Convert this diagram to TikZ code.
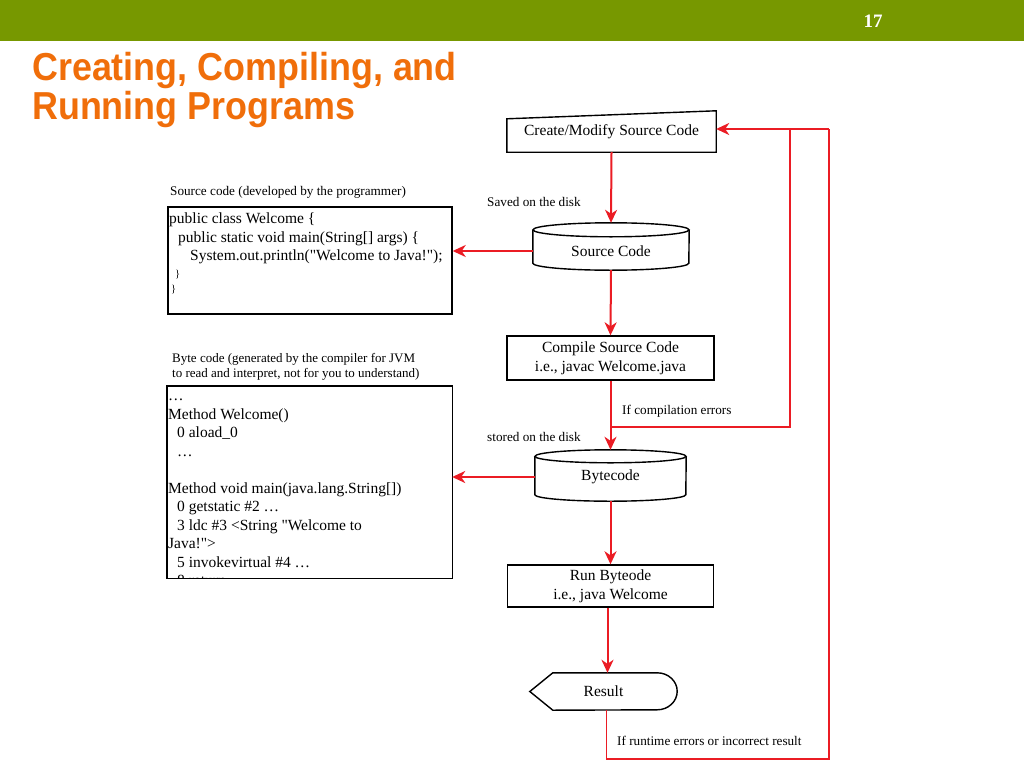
\documentclass[tikz,border=0pt]{standalone}
\usepackage{fontspec}
\setmainfont{Liberation Serif}[Ligatures=TeXOff]
\newfontfamily\titlefont{Liberation Sans}
\usepackage{graphicx}
\usetikzlibrary{arrows.meta,calc}
\definecolor{bargreen}{RGB}{119,152,0}
\definecolor{titleorange}{RGB}{240,110,10}
\definecolor{flowred}{RGB}{235,28,36}
\newcommand\mycyl[3]{%
  \draw[boxline] ([yshift=-#3]#1.north west) -- ([yshift=#3]#1.south west)
     arc[start angle=180,end angle=360,x radius=#2,y radius=#3]
     -- ([yshift=-#3]#1.north east);
  \draw[boxline] ([yshift=-#3]#1.north) ellipse[x radius=#2,y radius=#3];
}
\tikzset{
  boxline/.style={draw=black,line width=1.4pt},
  flowtext/.style={inner sep=0pt,align=center,font=\fontsize{15.5}{19}\selectfont},
  area/.style={inner sep=0pt,rectangle},
  mainarrow/.style={draw=flowred,line width=2pt,-{Stealth[length=13pt,width=12pt,inset=4pt]}},
  fbline/.style={draw=flowred,line width=1.3pt},
  lbl/.style={inner sep=0pt,anchor=west,font=\fontsize{13.2}{15}\selectfont},
  code/.style={inner sep=0pt,anchor=north west,align=left,font=\fontsize{15.5}{18.5}\selectfont},
}
\begin{document}
\begin{tikzpicture}[x=1pt,y=-1pt]
\useasboundingbox (0,0) rectangle (1024,768);
\fill[white] (0,0) rectangle (1024,768);
\fill[bargreen] (0,0) rectangle (1024,41);
\node[inner sep=0pt,text=white,font=\fontsize{19}{22}\selectfont\bfseries] (pagenum) at (873,21) {17};

% title
\node[anchor=base west,inner sep=0pt,text=titleorange,font=\titlefont\bfseries\fontsize{39}{39}\selectfont] (title1) at (32,80) {\scalebox{0.92}[1]{Creating, Compiling, and}};
\node[anchor=base west,inner sep=0pt,text=titleorange,font=\titlefont\bfseries\fontsize{39}{39}\selectfont] (title2) at (32,119) {\scalebox{0.92}[1]{Running Programs}};

% flow nodes
\node[area,flowtext,minimum width=209pt,minimum height=41pt] (create) at (611.5,131.5) {Create/Modify Source Code};
\draw[boxline] (create.south west) -- (create.south east) -- (create.north east) -- ([yshift=-8pt]create.north west) -- cycle;

\node[area,minimum width=156pt,minimum height=47pt,label={[flowtext,yshift=-5pt]center:Source Code}] (src) at (611,246.5) {};
\mycyl{src}{78pt}{7pt}

\node[area,flowtext,boxline,minimum width=207pt,minimum height=44pt] (compile) at (610.5,358) {Compile Source Code\\i.e., javac Welcome.java};

\node[area,minimum width=151pt,minimum height=51pt,label={[flowtext,yshift=-1.5pt]center:Bytecode}] (byte) at (610.5,475.5) {};
\mycyl{byte}{75.5pt}{6.5pt}

\node[area,flowtext,boxline,minimum width=206pt,minimum height=42pt] (run) at (610.5,586) {Run Byteode\\i.e., java Welcome};

\node[area,minimum width=147pt,minimum height=37pt,label={[flowtext]center:Result}] (res) at (603.5,691.5) {};
\draw[boxline] (res.west) -- ([xshift=23pt]res.north west) -- ([xshift=-20pt]res.north east)
   arc[start angle=90,end angle=-90,x radius=20pt,y radius=18.5pt]
   -- ([xshift=23pt]res.south west) -- cycle;

% source code box
\node[area,boxline,minimum width=284pt,minimum height=107pt] (srcbox) at (310,260.5) {};
\node[code] (srctext) at (169,210.5) {\strut public class Welcome \{\\
\hspace*{9pt}public static void main(String[] args) \{\\
\hspace*{21pt}System.out.println("Welcome to Java!");\\[-1.5pt]
{\fontsize{10.5}{12}\selectfont\hspace*{6pt}\}}\\[-3.5pt]
{\fontsize{10.5}{12}\selectfont\hspace*{2pt}\}}};

% byte code box
\node[area,minimum width=285pt,minimum height=192pt] (bytebox) at (309.5,482) {};
\begin{scope}
\clip (bytebox.south west) rectangle (bytebox.north east);
\node[code] (bytetext) at (168,387.5) {\strut …\\
Method Welcome()\\
\hspace*{9pt}0 aload\_0\\
\hspace*{9pt}…\\
\mbox{}\\
Method void main(java.lang.String[])\\
\hspace*{9pt}0 getstatic \#2 …\\
\hspace*{9pt}3 ldc \#3 <String "Welcome to\\
Java!">\\
\hspace*{9pt}5 invokevirtual \#4 …\\
\hspace*{9pt}8 return};
\end{scope}
\draw[boxline] (bytebox.south west) rectangle (bytebox.north east);

% labels
\node[lbl] (lblsaved) at (487,202) {Saved on the disk};
\node[lbl] (lblcomp) at (622,411) {If compilation errors};
\node[lbl] (lblstored) at (487,437) {stored on the disk};
\node[lbl] (lblrun) at (617,741) {If runtime errors or incorrect result};
\node[lbl] (lblsrc) at (170,192) {Source code (developed by the programmer)};
\node[lbl,align=left,font=\fontsize{13}{15}\selectfont] (lblbyte) at (172,366.5) {Byte code (generated by the compiler for JVM\\to read and interpret, not for you to understand)};

% connectors
\draw[mainarrow] (create.south) -- (src.north);
\draw[mainarrow] ([yshift=-4.5pt]src.west) -- ([yshift=-4.5pt]src.west -| srcbox.east);
\draw[mainarrow] (src.south) -- (compile.north);
\draw[mainarrow] (compile.south) -- (byte.north);
\draw[mainarrow] ([yshift=-1.5pt]byte.west) -- ([yshift=-1.5pt]byte.west -| bytebox.east);
\draw[mainarrow] (byte.south) -- (run.north);
\draw[mainarrow] ([xshift=4pt]res.north |- run.south) -- ([xshift=4pt]res.north);

\coordinate (br) at (610.5,427);
\coordinate (fbA) at (790,129);
\coordinate (fbB) at (829,129);
\coordinate (fbC) at (829,759);
\draw[fbline] (br) -| (fbA);
\draw[fbline] ([xshift=3pt]res.south) |- (fbC) -- (fbB);
\draw[mainarrow] (fbB) -- (fbB -| create.east);
\end{tikzpicture}
\end{document}
